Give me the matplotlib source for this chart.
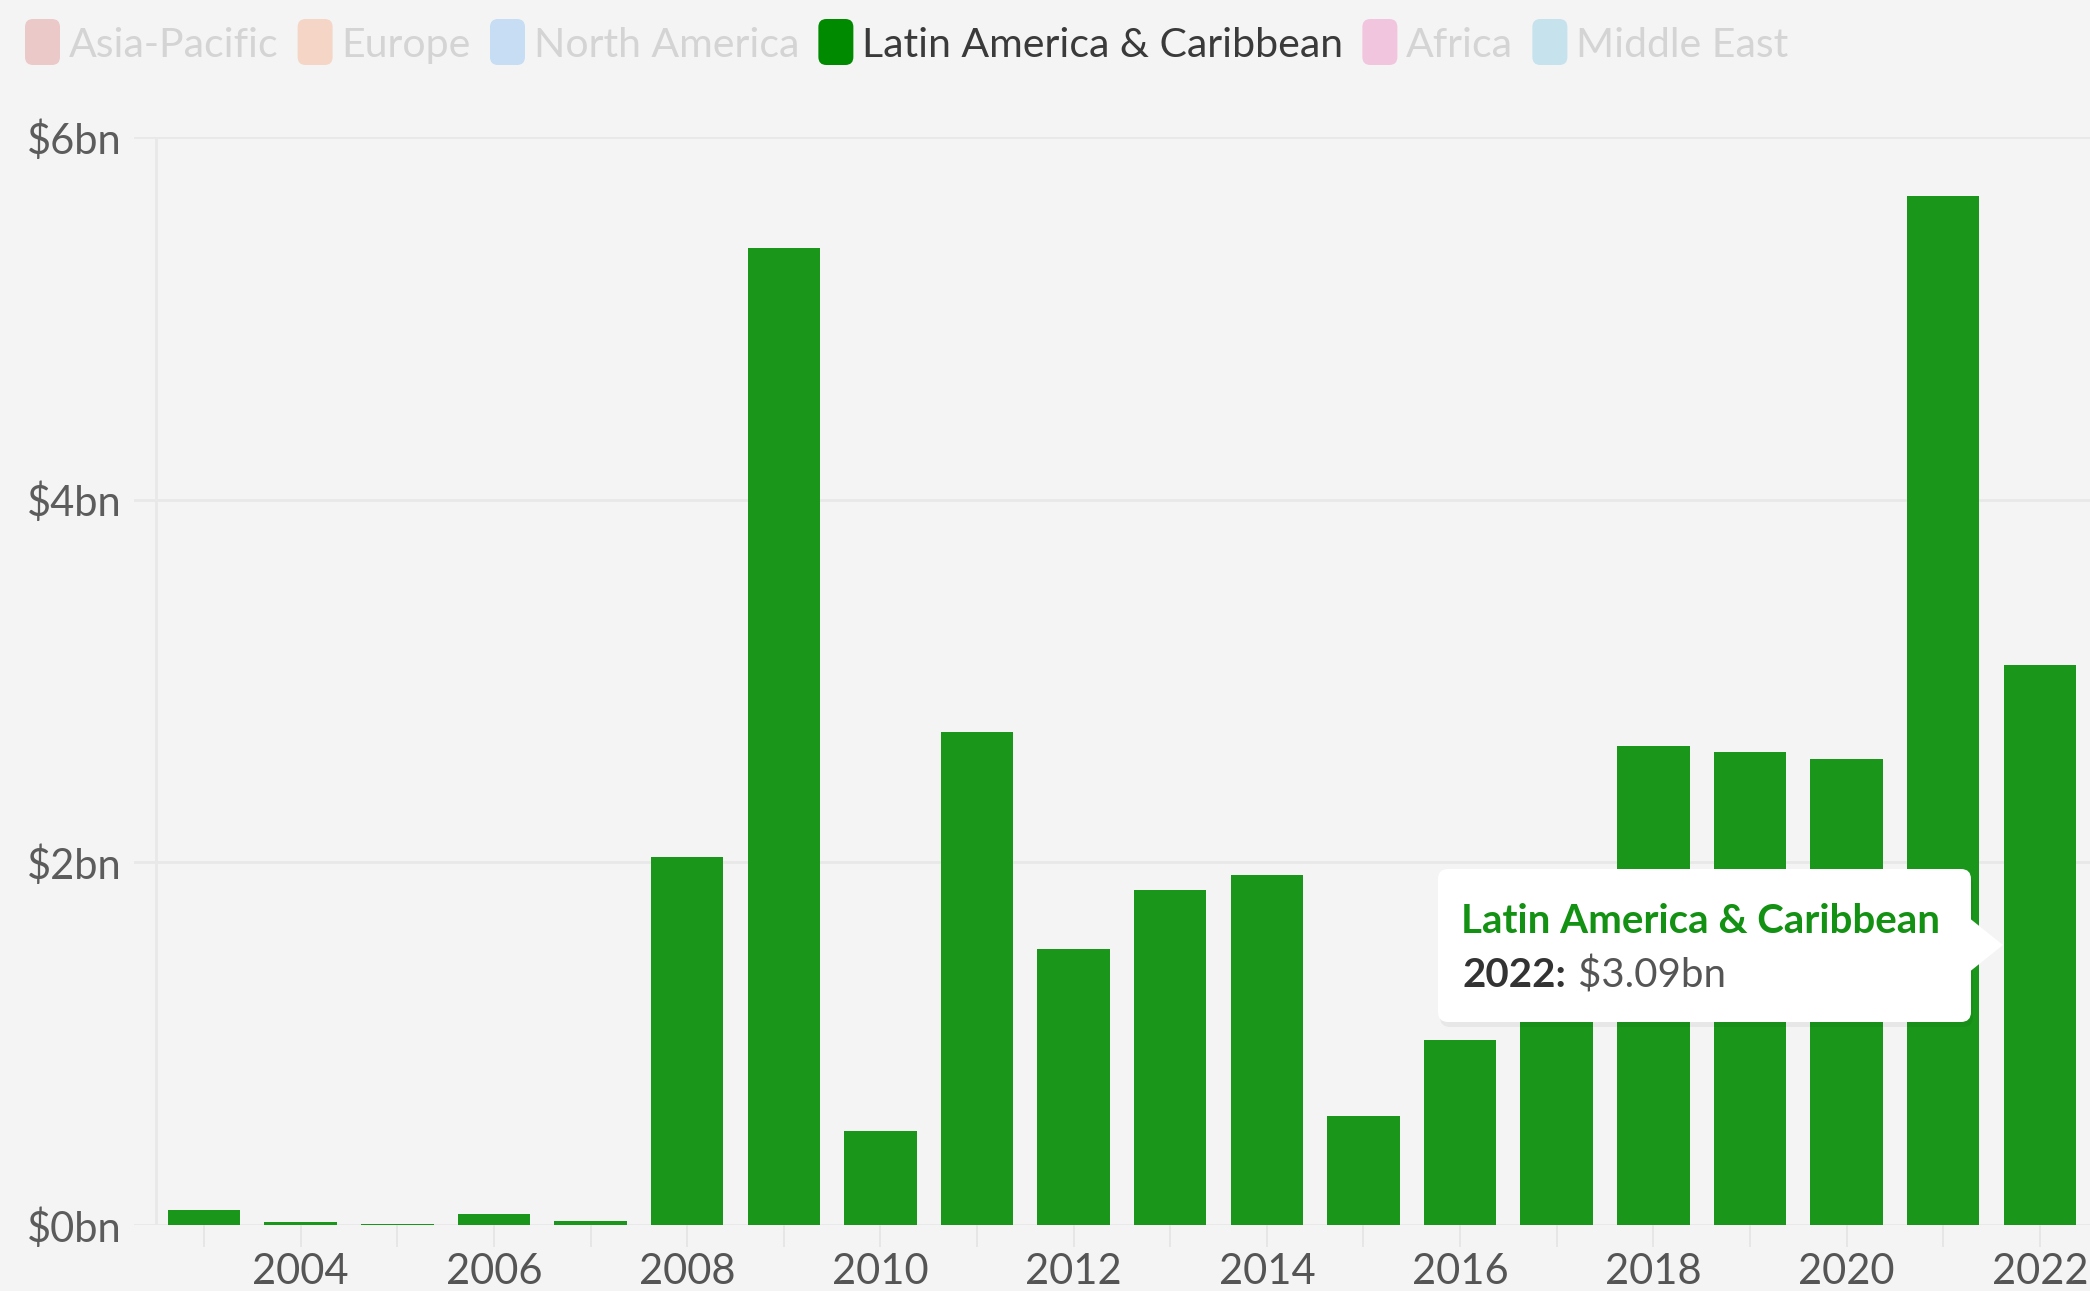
"""Latin America & Caribbean yearly bars with a hover-style tooltip."""

import matplotlib

matplotlib.use("Agg")

import matplotlib.pyplot as plt
from matplotlib.patches import FancyBboxPatch, Polygon
from matplotlib.transforms import IdentityTransform

plt.rcParams["font.family"] = ["Lato", "DejaVu Sans"]

YEARS = list(range(2003, 2023))
VALUES_BN = [0.08, 0.015, 0.008, 0.06, 0.02, 2.03, 5.39, 0.52, 2.72, 1.52,
             1.85, 1.93, 0.60, 1.02, 1.35, 2.64, 2.61, 2.57, 5.675, 3.09]
Y_TICKS = [0, 2, 4, 6]
REGIONS = ["Asia-Pacific", "Europe", "North America",
           "Latin America & Caribbean", "Africa", "Middle East"]
REGION_COLORS = ["#ecc9c9", "#f5d6c6", "#c6ddf4", "#008a00", "#f2c5df", "#c6e2ec"]
ACTIVE = "Latin America & Caribbean"
TOOLTIP_YEAR = 2022

BG = "#f4f4f4"
BAR = "#1a971a"
GRID = "#e8e8e8"
W, H = 2090, 1291


def px(x, y):
    """Convert top-left pixel coordinates to display coordinates."""
    return x, H - y


fig = plt.figure(figsize=(W / 100, H / 100), dpi=100, facecolor=BG)
ax = fig.add_axes([134 / W, 1 - 1225 / H, 1 - 134 / W, (1225 - 137) / H])
ax.set_facecolor(BG)

ax.bar(YEARS, VALUES_BN, width=0.75, color=BAR, zorder=3)
ax.set_xlim(2002.275, 2022.52)
ax.set_ylim(0, 6)
for s in ax.spines.values():
    s.set_visible(False)
ax.set_yticks(Y_TICKS)
ax.set_yticklabels([f"${v}bn" for v in Y_TICKS])
ax.set_xticks(YEARS)
ax.set_xticklabels([str(y) if y % 2 == 0 else "" for y in YEARS])
ax.grid(axis="y", color=GRID, linewidth=2, zorder=1)
ax.axvline(2002.5, color=GRID, linewidth=2, zorder=1)
ax.tick_params(axis="y", length=0, pad=9, labelsize=30, labelcolor="#5c5c5c")
ax.tick_params(axis="x", length=16, width=1.2, color="#e4e4e4", pad=4,
               labelsize=30, labelcolor="#555555")

# legend drawn by hand
renderer = fig.canvas.get_renderer()
x = 25
for name, color in zip(REGIONS, REGION_COLORS):
    mx, my = px(x, 65)
    fig.add_artist(FancyBboxPatch((mx, my), 35, 46, boxstyle="round,pad=0,rounding_size=8",
                                  facecolor=color, edgecolor="none",
                                  transform=IdentityTransform()))
    tx, ty = px(x + 44, 57)
    t = fig.text(tx, ty, name, transform=IdentityTransform(), fontsize=29.5,
                 color="#3a3a3a" if name == ACTIVE else "#d4d4d4", va="baseline")
    x = x + 44 + t.get_window_extent(renderer).width + 19

# tooltip
bx, by = px(1438, 1022)
fig.add_artist(FancyBboxPatch((bx + 2, by - 5), 533, 153, boxstyle="round,pad=0,rounding_size=10",
                              facecolor="black", alpha=0.05, edgecolor="none",
                              transform=IdentityTransform()))
fig.add_artist(FancyBboxPatch((bx, by), 533, 153, boxstyle="round,pad=0,rounding_size=10",
                              facecolor="white", edgecolor="none",
                              transform=IdentityTransform()))
fig.add_artist(Polygon([px(1968, 917), px(2003, 945), px(1968, 973)], closed=True,
                       facecolor="white", edgecolor="none", transform=IdentityTransform()))
tx, ty = px(1461, 933)
fig.text(tx, ty, ACTIVE, transform=IdentityTransform(), fontsize=29,
         fontweight="bold", color="#139113", va="baseline")
tx, ty = px(1462, 987)
lead = fig.text(tx, ty, f"{TOOLTIP_YEAR}:", transform=IdentityTransform(), fontsize=29,
                fontweight="bold", color="#333333", va="baseline")
lw = lead.get_window_extent(renderer).width
fig.text(tx + lw + 12, ty, f"${VALUES_BN[YEARS.index(TOOLTIP_YEAR)]:.2f}bn",
         transform=IdentityTransform(), fontsize=29, color="#555555", va="baseline")

fig.savefig("out.png", dpi=100, facecolor=BG)
